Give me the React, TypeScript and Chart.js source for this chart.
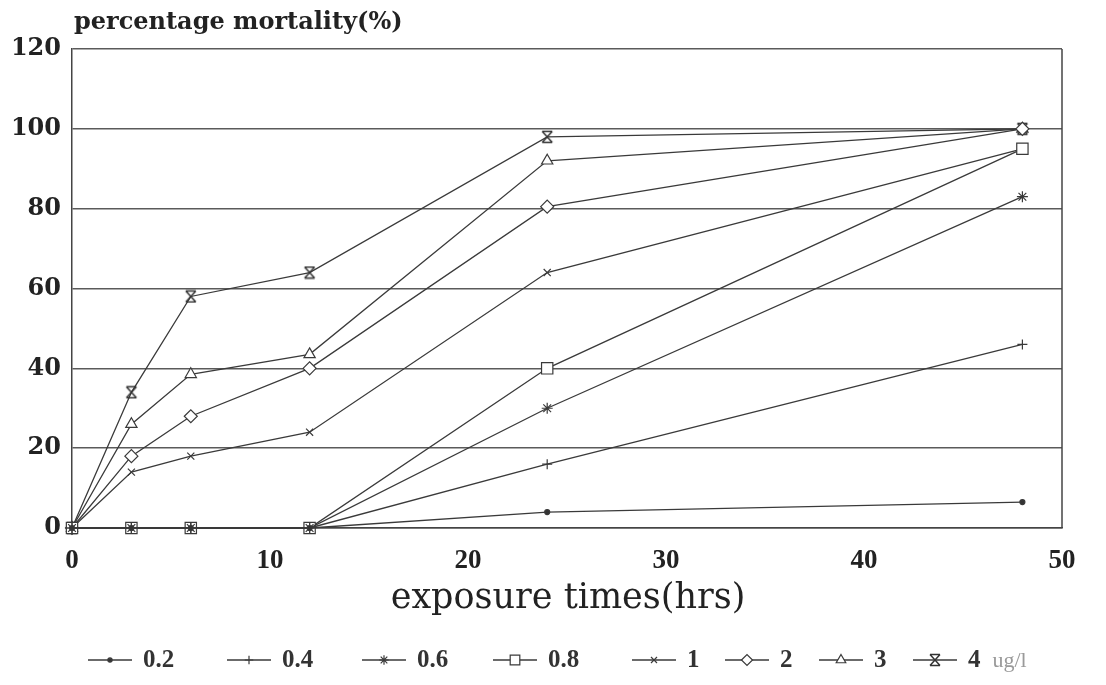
import React, { useEffect, useRef } from 'react';
import { Chart, registerables } from 'chart.js';
import { drawPoint } from 'chart.js/helpers';

Chart.register(...registerables);

// ---- data ----
const times = [0, 3, 6, 12, 24, 48];
const c02 = [0, 0, 0, 0, 4, 6.5];
const c04 = [0, 0, 0, 0, 16, 46];
const c06 = [0, 0, 0, 0, 30, 83];
const c08 = [0, 0, 0, 0, 40, 95];
const c1 = [0, 14, 18, 24, 64, 95];
const c2 = [0, 18, 28, 40, 80.5, 100];
const c3 = [0, 26, 38.5, 43.5, 92, 100];
const c4 = [0, 34, 58, 64, 98, 100];
const seriesLabels = ['0.2', '0.4', '0.6', '0.8', '1', '2', '3', '4'];
const seriesValues = [c02, c04, c06, c08, c1, c2, c3, c4];
const unitLabel = 'ug/l';
const yTitle = 'percentage mortality(%)';
const xTitle = 'exposure times(hrs)';
const xMin = 0, xMax = 50, xStep = 10;
const yMin = 0, yMax = 120, yStep = 20;

function makeHourglass(): HTMLCanvasElement {
  const c = document.createElement('canvas');
  c.width = 14; c.height = 14;
  const g = c.getContext('2d')!;
  g.strokeStyle = '#333';
  g.lineWidth = 1.5;
  g.beginPath();
  g.moveTo(2, 1.5); g.lineTo(12, 1.5);
  g.moveTo(2, 12.5); g.lineTo(12, 12.5);
  g.moveTo(12, 1.5); g.lineTo(2, 12.5);
  g.moveTo(2, 1.5); g.lineTo(12, 12.5);
  g.stroke();
  return c;
}

const LINE = '#3a3a3a';

const decorPlugin = {
  id: 'decor',
  afterDraw(chart: any) {
    const { ctx, chartArea: a } = chart;
    ctx.save();
    ctx.strokeStyle = '#444';
    ctx.lineWidth = 1.5;
    ctx.beginPath();
    ctx.moveTo(a.right, a.top);
    ctx.lineTo(a.right, a.bottom);
    ctx.stroke();

    ctx.fillStyle = '#222';
    ctx.font = 'bold 24px "DejaVu Serif"';
    ctx.textAlign = 'left';
    ctx.textBaseline = 'alphabetic';
    ctx.fillText(yTitle, a.left + 2, a.top - 20);

    ctx.font = '35px "DejaVu Serif"';
    ctx.textAlign = 'center';
    ctx.fillText(xTitle, (a.left + a.right) / 2 + 1, a.bottom + 80);

    // legend
    const starts = [88, 227, 362, 493, 632, 725, 819, 913];
    const ly = 660;
    chart.data.datasets.forEach((ds: any, i: number) => {
      const x0 = starts[i];
      ctx.strokeStyle = LINE;
      ctx.lineWidth = 1.3;
      ctx.beginPath();
      ctx.moveTo(x0, ly);
      ctx.lineTo(x0 + 44, ly);
      ctx.stroke();
      ctx.fillStyle = ds.pointBackgroundColor;
      ctx.strokeStyle = LINE;
      ctx.lineWidth = 1.2;
      drawPoint(ctx, {
        pointStyle: ds.pointStyle,
        rotation: 0,
        radius: ds.pointRadius * 0.85,
        borderWidth: 1.2,
      } as any, x0 + 22, ly);
      ctx.fillStyle = '#333';
      ctx.font = 'bold 25px "Liberation Serif"';
      ctx.textAlign = 'left';
      ctx.textBaseline = 'middle';
      ctx.fillText(ds.label, x0 + 55, ly + 1);
      if (i === chart.data.datasets.length - 1) {
        const w = ctx.measureText(ds.label).width;
        ctx.fillStyle = '#9a9a9a';
        ctx.font = '22px "Liberation Serif"';
        ctx.fillText(unitLabel, x0 + 55 + w + 12, ly + 1);
      }
    });
    ctx.restore();
  },
};

export default function App() {
  const ref = useRef<HTMLCanvasElement>(null);
  useEffect(() => {
    const hourglass = makeHourglass();
    const styles: any[] = ['circle', 'cross', 'star', 'rect', 'crossRot', 'rectRot', 'triangle', hourglass];
    const radii = [2.5, 5, 5.5, 8, 5, 6.5, 6.5, 7];
    const fills = ['#333', '#fff', '#fff', '#fff', '#fff', '#fff', '#fff', '#fff'];
    const datasets = seriesLabels.map((lab, i) => ({
      label: lab,
      data: times.map((t, j) => ({ x: t, y: seriesValues[i][j] })),
      borderColor: LINE,
      borderWidth: 1.3,
      pointStyle: styles[i],
      pointRadius: radii[i],
      pointBackgroundColor: fills[i],
      pointBorderColor: LINE,
      pointBorderWidth: 1.2,
      tension: 0,
      fill: false,
      clip: false,
    }));
    const chart = new Chart(ref.current!, {
      type: 'line',
      data: { datasets },
      options: {
        animation: false,
        responsive: true,
        maintainAspectRatio: false,
        layout: { padding: { left: 0, right: 44, top: 49, bottom: 0 } },
        plugins: { legend: { display: false }, title: { display: false }, tooltip: { enabled: false } },
        scales: {
          x: {
            type: 'linear',
            min: xMin, max: xMax,
            ticks: {
              stepSize: xStep,
              padding: 17,
              color: '#222',
              font: { family: '"Liberation Serif"', size: 27, weight: 'bold' },
            },
            grid: { display: false, drawTicks: false },
            border: { display: true, color: '#444', width: 1.5 },
            afterFit: (s: any) => { s.height = 157; },
          },
          y: {
            min: yMin, max: yMax,
            ticks: {
              stepSize: yStep,
              padding: 11,
              color: '#222',
              font: { family: '"DejaVu Serif"', size: 24, weight: 'bold' },
            },
            grid: { color: '#5a5a5a', lineWidth: 1.5, drawTicks: false },
            border: { display: true, color: '#444', width: 1.5 },
            afterFit: (s: any) => { s.width = 72; },
          },
        },
      } as any,
      plugins: [decorPlugin],
    });
    return () => chart.destroy();
  }, []);
  return (
    <div style={{ position: 'fixed', left: 0, top: 0, width: 1106, height: 685, background: '#fff' }}>
      <canvas ref={ref} />
    </div>
  );
}
